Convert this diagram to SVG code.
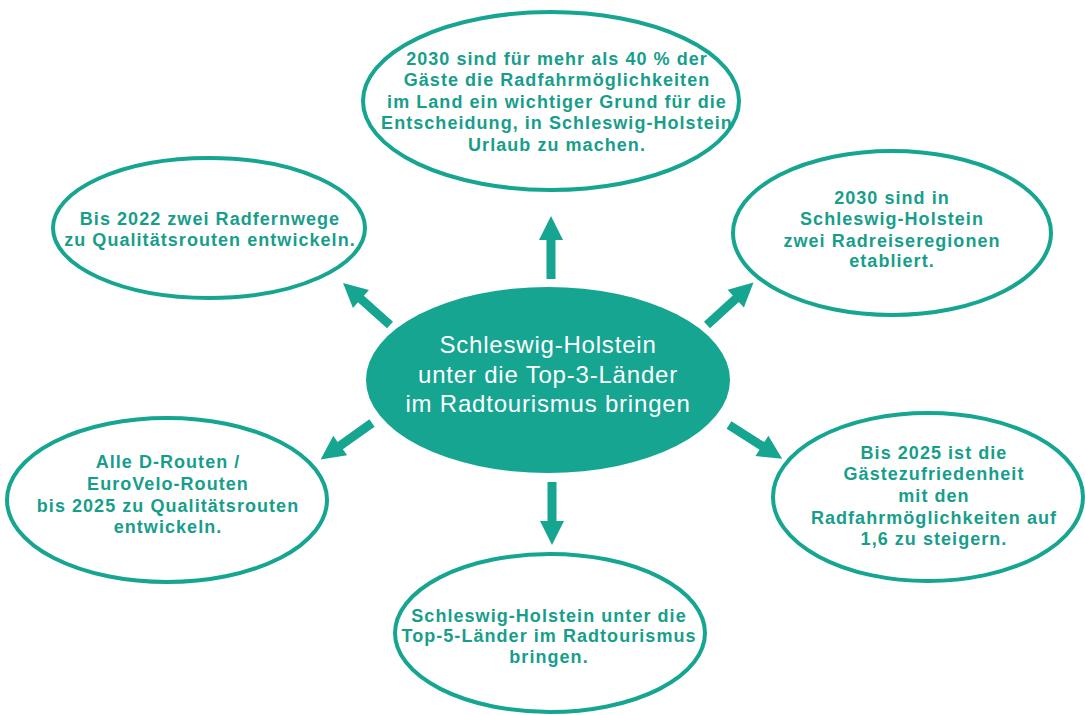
<svg xmlns="http://www.w3.org/2000/svg" xmlns:xlink="http://www.w3.org/1999/xlink" width="1085" height="715" viewBox="0 0 1085 715">
<style>
.ring{fill:#ffffff;stroke:#15a591;stroke-width:4}
.core{fill:#15a591;stroke:none}
.t{font-family:"Liberation Sans",Arial,sans-serif;font-weight:bold;font-size:18px;fill:#179e8b;text-anchor:middle;letter-spacing:1.05px}
.c{font-family:"Liberation Sans",Arial,sans-serif;font-size:24px;fill:#ffffff;text-anchor:middle;letter-spacing:0.8px}
.arr{fill:#15a591}
</style>
<defs>
<path id="arrow" class="arr" d="M0,-4.5 L39,-4.5 L39,-12 L63,0 L39,12 L39,4.5 L0,4.5 Z"/>
</defs>
<rect width="1085" height="715" fill="#ffffff"/>
<g id="connectors">
<use xlink:href="#arrow" href="#arrow" transform="translate(551,279) rotate(-90)"/>
<use xlink:href="#arrow" href="#arrow" transform="translate(552,482) rotate(90)"/>
<use xlink:href="#arrow" href="#arrow" transform="translate(390,325) rotate(-138.2)"/>
<use xlink:href="#arrow" href="#arrow" transform="translate(707,325) rotate(-42.4)"/>
<use xlink:href="#arrow" href="#arrow" transform="translate(372,423) rotate(144.6)"/>
<use xlink:href="#arrow" href="#arrow" transform="translate(729,425) rotate(32.4)"/>
</g>
<g id="node-center">
<ellipse class="core" cx="548" cy="380" rx="182" ry="93"/>
<text class="c" x="548" y="353">Schleswig-Holstein</text>
<text class="c" x="548" y="383">unter die Top-3-Länder</text>
<text class="c" x="548" y="412">im Radtourismus bringen</text>
</g>
<g id="node-top">
<ellipse class="ring" cx="551" cy="101" rx="188" ry="89"/>
<text class="t" x="557" y="65">2030 sind für mehr als 40 % der</text>
<text class="t" x="557" y="86">Gäste die Radfahrmöglichkeiten</text>
<text class="t" x="557" y="108">im Land ein wichtiger Grund für die</text>
<text class="t" x="557" y="129">Entscheidung, in Schleswig-Holstein</text>
<text class="t" x="557" y="151">Urlaub zu machen.</text>
</g>
<g id="node-top-left">
<ellipse class="ring" cx="209" cy="228" rx="156" ry="70"/>
<text class="t" x="210" y="225">Bis 2022 zwei Radfernwege</text>
<text class="t" x="210" y="246">zu Qualitätsrouten entwickeln.</text>
</g>
<g id="node-top-right">
<ellipse class="ring" cx="892" cy="233" rx="159" ry="82"/>
<text class="t" x="892" y="204">2030 sind in</text>
<text class="t" x="892" y="225">Schleswig-Holstein</text>
<text class="t" x="892" y="247">zwei Radreiseregionen</text>
<text class="t" x="892" y="267">etabliert.</text>
</g>
<g id="node-bottom-left">
<ellipse class="ring" cx="167" cy="500" rx="160" ry="82"/>
<text class="t" x="168" y="468">Alle D-Routen /</text>
<text class="t" x="168" y="490">EuroVelo-Routen</text>
<text class="t" x="168" y="512">bis 2025 zu Qualitätsrouten</text>
<text class="t" x="168" y="533">entwickeln.</text>
</g>
<g id="node-bottom-right">
<ellipse class="ring" cx="928" cy="497" rx="155" ry="84"/>
<text class="t" x="934" y="459">Bis 2025 ist die</text>
<text class="t" x="934" y="480">Gästezufriedenheit</text>
<text class="t" x="934" y="502">mit den</text>
<text class="t" x="934" y="524">Radfahrmöglichkeiten auf</text>
<text class="t" x="934" y="545">1,6 zu steigern.</text>
</g>
<g id="node-bottom">
<ellipse class="ring" cx="550" cy="633" rx="155" ry="79"/>
<text class="t" x="549" y="622">Schleswig-Holstein unter die</text>
<text class="t" x="549" y="642">Top-5-Länder im Radtourismus</text>
<text class="t" x="549" y="663">bringen.</text>
</g>
</svg>
